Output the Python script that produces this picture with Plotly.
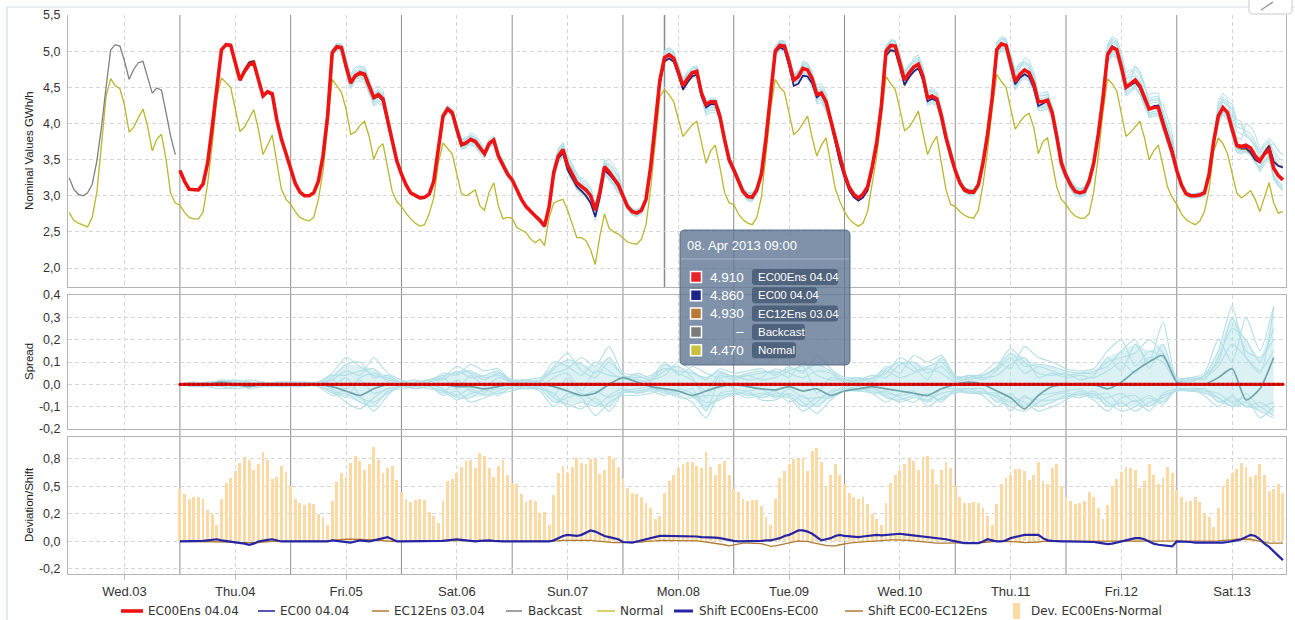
import numpy as np
import pandas as pd
import plotly.graph_objects as go

# ---------------- data ----------------
day_labels = ["Wed.03", "Thu.04", "Fri.05", "Sat.06", "Sun.07", "Mon.08",
              "Tue.09", "Wed.10", "Thu.11", "Fri.12", "Sat.13"]

# Backcast, Wed 03 (hourly)
backcast = [3.25, 3.09, 3.02, 3.00, 3.04, 3.16, 3.48, 3.95, 4.50, 5.02, 5.09, 5.07,
            4.86, 4.61, 4.75, 4.84, 4.86, 4.65, 4.42, 4.49, 4.46, 4.15, 3.82, 3.57]

# Normal, Wed 03 .. Sat 13 (hourly)
normal = [
    2.77, 2.66, 2.62, 2.59, 2.57, 2.70, 3.05, 3.70, 4.38, 4.62, 4.52, 4.48, 4.25, 3.88, 3.95, 4.08, 4.20, 3.96, 3.62, 3.78, 3.85, 3.50, 3.03, 2.90,
    2.87, 2.77, 2.70, 2.68, 2.68, 2.77, 3.16, 3.70, 4.35, 4.63, 4.56, 4.50, 4.20, 3.89, 3.95, 4.07, 4.19, 3.92, 3.57, 3.70, 3.84, 3.46, 3.09, 2.95,
    2.88, 2.78, 2.70, 2.67, 2.65, 2.70, 2.95, 3.33, 3.95, 4.61, 4.52, 4.43, 4.20, 3.85, 3.88, 3.97, 4.03, 3.82, 3.50, 3.66, 3.72, 3.38, 3.06, 2.92,
    2.85, 2.76, 2.68, 2.62, 2.58, 2.60, 2.75, 2.97, 3.45, 3.73, 3.65, 3.58, 3.30, 3.03, 3.00, 3.04, 3.08, 2.86, 2.80, 3.05, 3.18, 2.86, 2.68, 2.70,
    2.69, 2.56, 2.52, 2.49, 2.40, 2.35, 2.40, 2.31, 2.70, 2.90, 2.93, 2.95, 2.80, 2.62, 2.42, 2.42, 2.38, 2.25, 2.05, 2.44, 2.75, 2.55, 2.50, 2.47,
    2.42, 2.36, 2.34, 2.33, 2.40, 2.60, 3.10, 3.75, 4.37, 4.47, 4.40, 4.30, 4.05, 3.82, 3.90, 3.98, 4.03, 3.75, 3.45, 3.62, 3.70, 3.40, 3.05, 2.90,
    2.88, 2.75, 2.67, 2.62, 2.60, 2.70, 2.98, 3.58, 4.20, 4.61, 4.50, 4.43, 4.15, 3.85, 3.90, 4.00, 4.10, 3.80, 3.55, 3.70, 3.80, 3.45, 3.10, 2.92,
    2.78, 2.68, 2.62, 2.58, 2.62, 2.78, 3.15, 3.55, 4.10, 4.65, 4.55, 4.47, 4.20, 3.90, 3.95, 4.05, 4.17, 3.88, 3.57, 3.72, 3.82, 3.45, 3.08, 2.88,
    2.85, 2.78, 2.73, 2.70, 2.69, 2.80, 3.15, 3.62, 4.20, 4.68, 4.58, 4.50, 4.22, 3.92, 4.02, 4.10, 4.14, 3.95, 3.58, 3.75, 3.80, 3.48, 3.12, 2.95,
    2.88, 2.78, 2.72, 2.69, 2.69, 2.75, 3.05, 3.55, 4.15, 4.62, 4.55, 4.45, 4.15, 3.82, 3.88, 3.95, 4.03, 3.80, 3.50, 3.62, 3.70, 3.42, 3.12, 2.98,
    2.88, 2.75, 2.67, 2.63, 2.60, 2.65, 2.78, 3.08, 3.62, 3.80, 3.72, 3.58, 3.30, 3.04, 2.97, 3.02, 3.07, 2.95, 2.78, 2.98, 3.18, 2.90, 2.76, 2.78,
]

# EC00Ens 04.04 (ensemble mean), Thu 04 .. Sat 13 (hourly)
ec00ens = [
    3.35, 3.20, 3.09, 3.08, 3.08, 3.16, 3.45, 3.95, 4.50, 5.02, 5.09, 5.08, 4.84, 4.60, 4.72, 4.81, 4.84, 4.62, 4.38, 4.44, 4.41, 4.05, 3.78, 3.58,
    3.38, 3.17, 3.05, 3.00, 3.00, 3.04, 3.20, 3.55, 4.10, 4.98, 5.06, 5.05, 4.79, 4.56, 4.66, 4.70, 4.68, 4.52, 4.36, 4.40, 4.34, 4.05, 3.75, 3.48,
    3.30, 3.15, 3.04, 3.00, 2.97, 2.98, 3.02, 3.20, 3.62, 4.10, 4.20, 4.15, 3.92, 3.71, 3.73, 3.78, 3.75, 3.66, 3.58, 3.72, 3.77, 3.55, 3.42, 3.30,
    3.22, 3.08, 2.95, 2.85, 2.78, 2.72, 2.66, 2.58, 2.85, 3.32, 3.55, 3.64, 3.42, 3.30, 3.18, 3.13, 3.08, 3.00, 2.80, 3.05, 3.40, 3.33, 3.25, 3.15,
    3.00, 2.85, 2.78, 2.76, 2.80, 2.95, 3.40, 3.95, 4.60, 4.91, 4.95, 4.90, 4.72, 4.52, 4.62, 4.70, 4.72, 4.42, 4.26, 4.30, 4.30, 4.10, 3.78, 3.50,
    3.36, 3.20, 3.06, 2.99, 2.98, 3.08, 3.30, 3.80, 4.35, 5.00, 5.08, 5.07, 4.85, 4.60, 4.65, 4.76, 4.74, 4.62, 4.40, 4.42, 4.30, 4.05, 3.80, 3.52,
    3.30, 3.12, 3.02, 2.97, 3.02, 3.12, 3.40, 3.75, 4.25, 5.00, 5.08, 5.07, 4.85, 4.60, 4.70, 4.78, 4.82, 4.65, 4.35, 4.38, 4.34, 4.10, 3.80, 3.55,
    3.35, 3.18, 3.08, 3.05, 3.05, 3.15, 3.45, 3.85, 4.35, 5.02, 5.10, 5.08, 4.82, 4.58, 4.68, 4.74, 4.70, 4.55, 4.30, 4.30, 4.32, 4.15, 3.82, 3.45,
    3.28, 3.15, 3.06, 3.04, 3.06, 3.20, 3.45, 3.85, 4.35, 4.95, 5.05, 5.02, 4.78, 4.50, 4.55, 4.60, 4.52, 4.35, 4.20, 4.22, 4.22, 4.00, 3.80, 3.60,
    3.35, 3.15, 3.03, 3.00, 3.00, 3.01, 3.04, 3.30, 3.75, 4.10, 4.22, 4.15, 3.92, 3.70, 3.68, 3.70, 3.66, 3.55, 3.48, 3.58, 3.64, 3.38, 3.28, 3.22,
]

# Shift EC00Ens-EC00 (hourly)
shift_ens_ec00 = [
    0, 0, 0, 0, 0, 0.005, 0.01, 0.015, 0.02, 0.01, 0.005, 0, -0.005, -0.01, -0.02, -0.03, -0.02, 0, 0.01, 0.015, 0.02, 0.01, 0, 0,
    0, 0, 0, 0, 0, 0, 0, 0, 0, 0.01, 0.005, 0, -0.01, -0.01, 0, 0.01, 0.005, 0, 0.01, 0.02, 0.03, 0.04, 0.02, 0,
    0, 0, 0, 0, 0, 0, 0, 0, 0, 0.005, 0.01, 0.015, 0.02, 0.015, 0.01, 0, 0, 0.005, 0.01, 0.01, 0.005, 0, 0, 0,
    0, 0, 0, 0, 0, 0, 0, 0, 0, 0.01, 0.03, 0.05, 0.06, 0.055, 0.05, 0.06, 0.08, 0.10, 0.09, 0.07, 0.05, 0.04, 0.03, 0.02,
    -0.005, -0.01, -0.01, 0, 0.01, 0.02, 0.03, 0.04, 0.05, 0.05, 0.05, 0.045, 0.045, 0.05, 0.05, 0.045, 0.045, 0.04, 0.04, 0.035, 0.035, 0.03, 0.02, 0.01,
    0.005, 0, 0, 0, 0, 0.005, 0.005, 0.01, 0.01, 0.02, 0.03, 0.05, 0.06, 0.08, 0.10, 0.10, 0.09, 0.07, 0.04, 0.01, 0.02, 0.03, 0.05, 0.06,
    0.05, 0.045, 0.04, 0.04, 0.045, 0.05, 0.05, 0.06, 0.055, 0.06, 0.065, 0.07, 0.07, 0.065, 0.06, 0.06, 0.055, 0.05, 0.045, 0.04, 0.035, 0.03, 0.02, 0.01,
    0, -0.01, -0.015, -0.015, -0.015, -0.015, 0, 0.02, 0.01, 0, 0, 0.01, 0.03, 0.04, 0.05, 0.06, 0.06, 0.06, 0.06, 0.03, 0.01, 0.005, 0, 0,
    0, 0, 0, 0, 0, 0, -0.005, -0.01, -0.02, -0.025, -0.02, -0.01, 0, 0.01, 0.02, 0.03, 0.03, 0.02, 0, -0.02, -0.03, -0.035, -0.04, -0.045,
    0, 0, 0, -0.005, -0.01, -0.01, -0.015, -0.015, -0.015, -0.015, -0.01, -0.005, 0, 0.01, 0.02, 0.04, 0.06, 0.05, 0.02, -0.02, -0.05, -0.09, -0.13, -0.17,
]

# Shift EC00-EC12Ens (hourly)
shift_ec00_ec12 = [
    0, 0, 0, 0, 0, 0, 0, 0, 0, 0, 0, -0.005, -0.01, -0.01, -0.015, -0.015, -0.01, -0.01, -0.005, 0, 0, 0, 0, 0,
    0, 0, 0, 0, 0, 0, 0, 0, 0.005, 0.01, 0.015, 0.02, 0.02, 0.02, 0.02, 0.02, 0.02, 0.02, 0.015, 0.01, 0.005, 0, 0, 0,
    0, 0, 0, 0, 0, 0, 0, 0.005, 0.005, 0.01, 0.01, 0.01, 0.01, 0.01, 0.01, 0.01, 0.005, 0.005, 0, 0, 0, 0, 0, 0,
    0, 0, 0, 0, 0, 0, 0, 0, 0, 0, 0.005, 0.01, 0.01, 0.01, 0.015, 0.015, 0.01, 0.01, 0.005, 0, -0.005, -0.01, -0.01, -0.01,
    -0.01, -0.01, -0.01, -0.01, -0.005, 0, 0, 0.005, 0.01, 0.01, 0.01, 0.01, 0.01, 0.01, 0.01, 0.01, 0.005, 0, -0.005, -0.01, -0.015, -0.02, -0.03, -0.04,
    -0.03, -0.02, -0.015, -0.015, -0.015, -0.015, -0.02, -0.03, -0.045, -0.04, -0.03, -0.02, -0.01, 0, 0.005, 0, 0, -0.01, -0.02, -0.03, -0.035, -0.04, -0.04, -0.03,
    -0.02, -0.015, -0.01, -0.005, 0, 0, 0, 0.005, 0.01, 0.01, 0.015, 0.015, 0.015, 0.015, 0.01, 0.005, 0, 0, -0.005, -0.01, -0.015, -0.015, -0.015, -0.015,
    -0.015, -0.015, -0.015, -0.01, -0.01, -0.01, -0.01, -0.005, 0, 0, 0, 0, 0, -0.005, -0.005, -0.01, -0.01, -0.01, -0.005, 0, 0, 0, 0, 0,
    0, 0, 0, 0, 0, 0, 0, 0, 0, 0, 0, 0, 0.005, 0.005, 0.005, 0.005, 0, 0, 0, 0, 0, 0, 0, 0,
    0, 0, 0, 0, 0, 0, 0, 0, 0, 0.005, 0.01, 0.01, 0.015, 0.02, 0.02, 0.02, 0.02, 0.01, 0, -0.01, -0.015, -0.015, -0.015, -0.015,
]

# Spread panel: control deviation (3-hourly, Thu 04 .. Sat 13)
ctrl_spread = [
    0, 0, 0, 0.01, 0, -0.01, 0, 0,
    0, 0, 0, -0.01, -0.03, -0.05, -0.02, 0,
    0, 0, 0, 0, -0.01, -0.01, -0.02, -0.01,
    0, 0, 0, -0.01, -0.03, -0.05, -0.04, 0.0,
    0.03, 0.01, -0.01, -0.02, -0.03, -0.05, -0.03, -0.01,
    0, -0.01, -0.02, -0.025, -0.01, -0.03, -0.02, -0.05,
    -0.03, -0.02, -0.01, -0.02, -0.03, -0.04, -0.05, -0.02,
    0, 0.01, 0.0, -0.03, -0.06, -0.11, -0.05, -0.01,
    0, 0, 0, -0.02, 0.01, 0.06, 0.10, 0.13,
    0.01, 0.0, 0, 0.03, 0.07, -0.07, -0.02, 0.12,
]

# Ensemble members minus ensemble mean (3-hourly, Thu 04 .. Sat 13)
m01 = [0.00, 0.01, 0.00, 0.02, 0.01, 0.01, 0.00, 0.01, 0.01, 0.00, 0.01, 0.05, 0.12, 0.08, 0.04, 0.03,
       0.01, 0.02, 0.00, 0.03, 0.08, 0.05, 0.02, 0.05, 0.02, 0.01, 0.02, 0.08, 0.14, 0.06, 0.03, 0.10,
       0.04, 0.02, 0.01, 0.09, 0.05, 0.02, -0.03, 0.05, 0.03, 0.04, 0.05, 0.06, 0.03, 0.10, 0.04, 0.02,
       0.02, 0.01, 0.03, 0.05, 0.12, 0.08, 0.02, 0.12, 0.03, 0.02, 0.04, 0.08, 0.16, 0.10, 0.05, 0.04,
       0.05, 0.02, 0.04, 0.12, 0.06, 0.18, 0.10, 0.28, 0.02, 0.01, 0.04, 0.15, 0.35, 0.12, 0.05, 0.34]
m02 = [0.00, -0.01, 0.00, -0.01, -0.02, -0.01, 0.00, -0.01, -0.01, 0.00, -0.01, -0.03, -0.08, -0.11, -0.06, -0.02,
       -0.01, -0.01, -0.02, -0.03, -0.07, -0.04, -0.03, -0.02, -0.02, -0.02, -0.01, -0.06, -0.09, -0.11, -0.06, -0.12,
       -0.04, -0.03, -0.02, -0.04, -0.05, -0.08, -0.15, -0.04, -0.03, -0.05, -0.04, -0.05, -0.06, -0.12, -0.08, -0.03,
       -0.02, -0.02, -0.03, -0.05, -0.08, -0.06, -0.07, -0.04, -0.03, -0.04, -0.03, -0.06, -0.10, -0.12, -0.08, -0.05,
       -0.04, -0.05, -0.03, -0.08, -0.12, -0.10, -0.06, -0.09, -0.02, -0.03, -0.04, -0.06, -0.10, -0.08, -0.12, -0.15]
m03 = [0.00, 0.00, 0.01, 0.01, 0.00, 0.02, 0.01, 0.00, 0.00, 0.01, 0.00, 0.02, 0.06, 0.04, 0.12, 0.05,
       0.02, 0.00, 0.01, 0.05, 0.04, 0.09, 0.06, 0.07, 0.01, 0.02, 0.03, 0.05, 0.07, 0.12, 0.08, 0.17,
       0.05, 0.04, 0.02, 0.04, 0.10, 0.06, 0.02, 0.07, 0.05, 0.06, 0.07, 0.04, 0.08, 0.05, 0.13, 0.07,
       0.03, 0.03, 0.02, 0.08, 0.05, 0.13, 0.10, 0.13, 0.04, 0.03, 0.05, 0.10, 0.07, 0.17, 0.12, 0.10,
       0.07, 0.06, 0.07, 0.15, 0.20, 0.08, 0.15, 0.12, 0.03, 0.03, 0.05, 0.20, 0.10, 0.30, 0.15, 0.35]
m04 = [0.00, -0.01, -0.01, 0.00, 0.01, -0.02, -0.01, 0.00, 0.00, -0.01, 0.00, -0.01, 0.03, -0.05, -0.12, -0.05,
       0.00, -0.02, -0.01, -0.05, -0.03, -0.08, -0.06, -0.04, -0.03, -0.01, -0.03, -0.10, -0.04, -0.06, -0.14, -0.08,
       -0.05, -0.05, -0.04, -0.02, -0.03, -0.05, -0.10, -0.06, -0.05, -0.03, -0.07, -0.07, -0.04, -0.08, -0.13, -0.07,
       -0.03, -0.03, -0.04, -0.08, -0.04, -0.03, -0.10, -0.06, -0.04, -0.03, -0.05, -0.10, -0.06, -0.08, -0.12, -0.10,
       -0.07, -0.04, -0.07, -0.12, -0.06, -0.05, -0.10, -0.05, -0.03, -0.02, -0.05, -0.10, -0.05, -0.10, -0.08, -0.12]
m05 = [0.00, 0.00, 0.00, 0.01, 0.01, 0.00, 0.01, 0.00, 0.01, 0.00, 0.00, 0.03, 0.09, 0.10, 0.03, 0.04,
       0.01, 0.01, 0.02, 0.02, 0.06, 0.03, 0.04, 0.06, 0.00, 0.01, 0.02, 0.10, 0.08, 0.04, 0.10, 0.06,
       0.02, 0.05, 0.03, 0.10, 0.04, 0.08, 0.05, 0.03, 0.04, 0.02, 0.03, 0.07, 0.05, 0.03, 0.06, 0.05,
       0.01, 0.02, 0.04, 0.03, 0.09, 0.10, 0.05, 0.08, 0.02, 0.04, 0.02, 0.06, 0.12, 0.05, 0.08, 0.06,
       0.04, 0.05, 0.06, 0.08, 0.15, 0.20, 0.07, 0.18, 0.02, 0.03, 0.02, 0.12, 0.25, 0.20, 0.10, 0.25]
m06 = [0.00, 0.00, -0.01, -0.02, -0.01, 0.00, -0.01, -0.01, 0.00, 0.00, -0.01, -0.05, -0.04, -0.08, -0.10, -0.03,
       -0.02, -0.01, 0.00, -0.02, -0.06, -0.06, -0.02, -0.05, -0.01, -0.02, -0.02, -0.04, -0.10, -0.08, -0.10, -0.05,
       -0.02, -0.04, -0.03, -0.05, -0.02, -0.04, -0.08, -0.07, -0.04, -0.06, -0.05, -0.03, -0.08, -0.05, -0.10, -0.05,
       -0.03, -0.01, -0.04, -0.03, -0.06, -0.08, -0.04, -0.08, -0.02, -0.04, -0.04, -0.04, -0.12, -0.05, -0.10, -0.08,
       -0.05, -0.06, -0.04, -0.10, -0.08, -0.12, -0.08, -0.06, -0.03, -0.03, -0.03, -0.04, -0.08, -0.06, -0.15, -0.10]
m07 = [0.00, 0.01, 0.00, 0.00, 0.00, 0.01, 0.00, 0.01, 0.00, 0.00, 0.01, 0.02, -0.02, 0.03, 0.05, 0.02,
       0.01, 0.00, 0.01, 0.03, -0.02, 0.04, -0.01, 0.03, 0.01, 0.00, -0.01, 0.03, 0.05, -0.03, 0.06, 0.04,
       0.03, 0.01, 0.02, 0.06, 0.08, 0.03, -0.06, 0.04, 0.02, 0.04, 0.02, 0.03, 0.06, 0.08, -0.04, 0.03,
       0.02, 0.03, 0.01, 0.06, 0.03, 0.05, 0.07, 0.05, 0.01, 0.03, 0.03, 0.04, 0.09, 0.12, 0.03, 0.05,
       0.03, 0.04, 0.03, 0.06, 0.10, 0.05, 0.12, 0.10, 0.01, 0.02, 0.03, 0.08, 0.18, 0.12, 0.06, 0.15]
m08 = [0.00, 0.00, 0.00, -0.01, 0.00, -0.01, 0.00, 0.00, 0.00, 0.00, 0.00, -0.02, -0.06, 0.02, -0.04, -0.02,
       -0.01, 0.00, -0.01, -0.04, 0.02, -0.03, -0.04, 0.01, 0.00, -0.01, 0.01, -0.05, 0.03, -0.05, -0.03, -0.06,
       -0.03, -0.02, -0.01, -0.03, -0.04, -0.02, -0.12, 0.02, -0.02, -0.03, -0.02, -0.06, -0.02, -0.06, -0.06, -0.04,
       -0.01, -0.02, -0.02, -0.04, -0.05, -0.04, -0.08, -0.02, -0.02, -0.02, -0.02, -0.08, -0.04, -0.10, -0.05, -0.04,
       -0.03, -0.02, -0.05, -0.04, -0.10, -0.07, -0.12, -0.04, -0.02, -0.02, -0.02, -0.06, -0.10, -0.04, -0.10, -0.08]
m09 = [0.00, 0.00, 0.01, 0.01, 0.02, 0.01, 0.00, 0.00, 0.01, 0.01, 0.01, 0.04, 0.04, 0.06, 0.07, 0.01,
       0.00, 0.01, 0.02, 0.04, 0.05, 0.06, 0.03, 0.04, 0.02, 0.02, 0.01, 0.07, 0.11, 0.09, 0.05, 0.12,
       0.04, 0.03, 0.04, 0.07, 0.06, 0.05, 0.03, 0.06, 0.03, 0.05, 0.06, 0.05, 0.07, 0.06, 0.09, 0.06,
       0.02, 0.02, 0.03, 0.07, 0.10, 0.06, 0.08, 0.10, 0.03, 0.04, 0.04, 0.07, 0.14, 0.08, 0.09, 0.08,
       0.06, 0.05, 0.05, 0.10, 0.12, 0.14, 0.20, 0.14, 0.02, 0.02, 0.04, 0.10, 0.30, 0.15, 0.12, 0.20]
m10 = [0.00, -0.01, 0.00, 0.00, -0.01, -0.01, 0.00, 0.00, -0.01, -0.01, 0.00, -0.04, -0.03, -0.06, -0.08, -0.04,
       -0.01, -0.02, -0.01, -0.03, -0.05, -0.02, -0.05, -0.03, -0.01, -0.01, -0.02, -0.08, -0.06, -0.04, -0.08, -0.10,
       -0.03, -0.04, -0.02, -0.03, -0.06, -0.06, -0.05, -0.05, -0.04, -0.04, -0.06, -0.04, -0.05, -0.10, -0.06, -0.06,
       -0.02, -0.03, -0.01, -0.06, -0.07, -0.05, -0.05, -0.07, -0.03, -0.02, -0.04, -0.05, -0.08, -0.06, -0.07, -0.07,
       -0.06, -0.03, -0.06, -0.06, -0.04, -0.08, -0.05, -0.08, -0.02, -0.03, -0.02, -0.08, -0.06, -0.10, -0.10, -0.14]
members = [m01, m02, m03, m04, m05, m06, m07, m08, m09, m10]

# axis ticks
top_ticks = [2.0, 2.5, 3.0, 3.5, 4.0, 4.5, 5.0, 5.5]
top_ticktext = ["2,0", "2,5", "3,0", "3,5", "4,0", "4,5", "5,0", "5,5"]
spread_ticks = [-0.2, -0.1, 0.0, 0.1, 0.2, 0.3, 0.4]
spread_ticktext = ["-0,2", "-0,1", "0,0", "0,1", "0,2", "0,3", "0,4"]
dev_ticks = [-0.25, 0.0, 0.25, 0.5, 0.75]
dev_ticktext = ["-0,2", "0,0", "0,2", "0,5", "0,8"]

# ---------------- derived ----------------
t_all = pd.date_range("2013-04-03 00:00", periods=len(normal), freq="h")
t_ens = t_all[24:]
t_3h = pd.date_range("2013-04-04 00:00", periods=len(ctrl_spread), freq="3h")
day_noon = pd.date_range("2013-04-03 12:00", periods=len(day_labels), freq="D")
midnights = pd.date_range("2013-04-04 00:00", periods=10, freq="D")

ens = np.array(ec00ens)
ec00 = ens - np.array(shift_ens_ec00)
ec12 = ec00 - np.array(shift_ec00_ec12)
dev = ens - np.array(normal[24:])
mem_sorted = np.sort(np.array(members), axis=0)
core_hi = mem_sorted[-2]
core_lo = mem_sorted[1]

x_range = [pd.Timestamp("2013-04-02 23:45"), pd.Timestamp("2013-04-13 23:40")]

# pixel helpers (plot area: x 68..1286, y 15..574)
def PX(x):
    return (x - 68) / 1218.0

def PY(y):
    return (574 - y) / 559.0

def P(x, y):
    return f"{PX(x):.5f},{PY(y):.5f}"

def rrect(x0, y0, x1, y1, r):
    return ("M" + P(x0 + r, y0) + " L" + P(x1 - r, y0) + " Q" + P(x1, y0) + " " + P(x1, y0 + r) +
            " L" + P(x1, y1 - r) + " Q" + P(x1, y1) + " " + P(x1 - r, y1) +
            " L" + P(x0 + r, y1) + " Q" + P(x0, y1) + " " + P(x0, y1 - r) +
            " L" + P(x0, y0 + r) + " Q" + P(x0, y0) + " " + P(x0 + r, y0) + " Z")

MEMBER_C = "#b2dfe6"
RED = "#ee1414"
NAVY = "#1f1f8f"
BROWN = "#b07a30"
GRAY = "#808080"
OLIVE = "#bdb52c"
BAR_C = "#fdd9a3"

fig = go.Figure()

# ---- top panel ----
for m in members:
    fig.add_trace(go.Scatter(x=t_ens, y=ens + np.repeat(m, 3), mode="lines",
                             line=dict(color=MEMBER_C, width=1), showlegend=False,
                             hoverinfo="skip", xaxis="x", yaxis="y"))
fig.add_trace(go.Scatter(x=t_all, y=normal, mode="lines", line=dict(color=OLIVE, width=1.3),
                         name="Normal", showlegend=False, xaxis="x", yaxis="y"))
fig.add_trace(go.Scatter(x=t_all[:24], y=backcast, mode="lines", line=dict(color=GRAY, width=1.3),
                         name="Backcast", showlegend=False, xaxis="x", yaxis="y"))
fig.add_trace(go.Scatter(x=t_ens, y=ec12, mode="lines", line=dict(color=BROWN, width=1.2),
                         name="EC12Ens 03.04", showlegend=False, xaxis="x", yaxis="y"))
fig.add_trace(go.Scatter(x=t_ens, y=ec00, mode="lines", line=dict(color=NAVY, width=1.6),
                         name="EC00 04.04", showlegend=False, xaxis="x", yaxis="y"))
fig.add_trace(go.Scatter(x=t_ens, y=ens, mode="lines", line=dict(color=RED, width=3.6),
                         name="EC00Ens 04.04", showlegend=False, xaxis="x", yaxis="y"))

# ---- spread panel ----
fig.add_trace(go.Scatter(x=t_3h, y=core_lo, mode="lines",
                         line=dict(color="rgba(0,0,0,0)", width=0, shape="spline", smoothing=0.6),
                         showlegend=False, hoverinfo="skip", xaxis="x2", yaxis="y2"))
fig.add_trace(go.Scatter(x=t_3h, y=core_hi, mode="lines", fill="tonexty",
                         fillcolor="rgba(178,223,230,0.45)",
                         line=dict(color="rgba(0,0,0,0)", width=0, shape="spline", smoothing=0.6),
                         showlegend=False, hoverinfo="skip", xaxis="x2", yaxis="y2"))
for m in members:
    fig.add_trace(go.Scatter(x=t_3h, y=m, mode="lines",
                             line=dict(color=MEMBER_C, width=1.1, shape="spline", smoothing=0.6),
                             showlegend=False, hoverinfo="skip", xaxis="x2", yaxis="y2"))
fig.add_trace(go.Scatter(x=t_3h, y=ctrl_spread, mode="lines",
                         line=dict(color="#6fa5ad", width=1.7, shape="spline", smoothing=0.6),
                         showlegend=False, hoverinfo="skip", xaxis="x2", yaxis="y2"))
fig.add_trace(go.Scatter(x=t_ens, y=ens - ens, mode="lines+markers",
                         line=dict(color=RED, width=3.4),
                         marker=dict(size=3, color="#b80000"),
                         showlegend=False, hoverinfo="skip", xaxis="x2", yaxis="y2"))

# ---- deviation / shift panel ----
fig.add_trace(go.Bar(x=t_ens, y=dev, width=0.62 * 3600 * 1000, marker=dict(color=BAR_C, line=dict(width=0)),
                     name="Dev. EC00Ens-Normal", showlegend=False, xaxis="x3", yaxis="y3"))
fig.add_trace(go.Scatter(x=t_ens, y=shift_ec00_ec12, mode="lines", line=dict(color=BROWN, width=1.3),
                         name="Shift EC00-EC12Ens", showlegend=False, xaxis="x3", yaxis="y3"))
fig.add_trace(go.Scatter(x=t_ens, y=shift_ens_ec00, mode="lines", line=dict(color="#2525a5", width=2.2),
                         name="Shift EC00Ens-EC00", showlegend=False, xaxis="x3", yaxis="y3"))

# ---------------- layout ----------------
GRID = "#d6d6d6"
AX_LINE = "#b4b4b4"
TICK_FONT = dict(family="Liberation Sans, Arial", size=12.5, color="#333333")

xcommon = dict(type="date", range=x_range, tickvals=list(day_noon), ticktext=day_labels,
               showgrid=True, gridcolor=GRID, griddash="4px,3px", gridwidth=1,
               zeroline=False, linecolor=AX_LINE, showline=True, tickfont=TICK_FONT)
ycommon = dict(showgrid=True, gridcolor=GRID, griddash="4px,3px", gridwidth=1, zeroline=False,
               showline=True, linecolor=AX_LINE, mirror=True, tickfont=TICK_FONT,
               ticks="outside", ticklen=4, tickcolor="rgba(0,0,0,0)")

layout = dict(
    width=1295, height=620,
    margin=dict(l=68, r=9, t=15, b=46),
    paper_bgcolor="white", plot_bgcolor="rgba(0,0,0,0)",
    showlegend=False, bargap=0,
    xaxis=dict(xcommon, anchor="y", showticklabels=False, ticks=""),
    xaxis2=dict(xcommon, anchor="y2", matches="x", showticklabels=False, ticks="", mirror=True),
    xaxis3=dict(xcommon, anchor="y3", matches="x", showticklabels=True, mirror=True,
                ticks="outside", ticklen=5, tickcolor="#c0c0c0",
                tickfont=dict(family="Liberation Sans, Arial", size=13, color="#333333")),
    yaxis=dict(ycommon, domain=[PY(287), 1.0], range=[1.738, 5.5], tickvals=top_ticks, ticktext=top_ticktext),
    yaxis2=dict(ycommon, domain=[PY(429), PY(295)], range=[-0.2, 0.4], tickvals=spread_ticks,
                ticktext=spread_ticktext),
    yaxis3=dict(ycommon, domain=[0.0, PY(437)], range=[-0.296, 0.95], tickvals=dev_ticks,
                ticktext=dev_ticktext),
)
fig.update_layout(**layout)

shapes = []
# day separators
for d in midnights:
    shapes.append(dict(type="line", xref="x", yref="paper", x0=d, x1=d, y0=0, y1=1,
                       line=dict(color="#8e8e8e", width=1), layer="below"))
# crosshair at hovered point
cross_t = pd.Timestamp("2013-04-08 09:00")
shapes.append(dict(type="line", xref="x", yref="paper", x0=cross_t, x1=cross_t, y0=PY(287), y1=1,
                   line=dict(color="#8a8a8a", width=1.5), layer="below"))
# outer chart frame
shapes.append(dict(type="rect", xref="paper", yref="paper", x0=PX(7), x1=PX(1310), y0=PY(640), y1=PY(7),
                   line=dict(color="#d3dde7", width=1.2), fillcolor="rgba(0,0,0,0)", layer="below"))
# top-right expand button
shapes.append(dict(type="path", xref="paper", yref="paper", path=rrect(1249, -6, 1292, 14, 4),
                   line=dict(color="#c9c9c9", width=1), fillcolor="white", layer="above"))
shapes.append(dict(type="line", xref="paper", yref="paper", x0=PX(1261), y0=PY(10), x1=PX(1273), y1=PY(2),
                   line=dict(color="#9a9a9a", width=1.5), layer="above"))

annotations = []
# y-axis titles
TITLE_FONT = dict(family="Liberation Sans, Arial", size=11.5, color="#222222")
for txt, yc in [("Nominal Values GWh/h", 151), ("Spread", 362), ("Deviation/Shift", 505)]:
    annotations.append(dict(text=txt, xref="paper", yref="paper", x=PX(29), y=PY(yc), textangle=-90,
                            showarrow=False, xanchor="center", yanchor="middle", font=TITLE_FONT))

# tooltip
shapes.append(dict(type="path", xref="paper", yref="paper", path=rrect(680, 230, 850, 365, 5),
                   fillcolor="rgba(92,115,145,0.78)", line=dict(color="rgba(80,100,128,0.9)", width=1),
                   layer="above"))
shapes.append(dict(type="line", xref="paper", yref="paper", x0=PX(681), x1=PX(849), y0=PY(259), y1=PY(259),
                   line=dict(color="rgba(175,190,210,0.8)", width=1), layer="above"))
annotations.append(dict(text="08. Apr 2013 09:00", xref="paper", yref="paper", x=PX(685), y=PY(245),
                        xanchor="left", yanchor="middle", showarrow=False,
                        font=dict(family="Liberation Sans, Arial", size=13, color="white")))
tip_rows = [
    ("#e8232a", "4.910", "EC00Ens 04.04", 838),
    ("#1c2588", "4.860", "EC00 04.04", 817),
    ("#b87a35", "4.930", "EC12Ens 03.04", 838),
    ("#7a7a7a", "\u2013", "Backcast", 805),
    ("#c9c23c", "4.470", "Normal", 796),
]
for i, (col, val, lab, xend) in enumerate(tip_rows):
    yc = 277 + i * 18.3
    shapes.append(dict(type="rect", xref="paper", yref="paper", x0=PX(690.5), x1=PX(701.5),
                       y0=PY(yc + 5.5), y1=PY(yc - 5.5), fillcolor=col,
                       line=dict(color="white", width=1.5), layer="above"))
    shapes.append(dict(type="path", xref="paper", yref="paper", path=rrect(752, yc - 8, xend, yc + 8, 3),
                       fillcolor="rgba(70,90,118,0.85)", line=dict(width=0), layer="above"))
    annotations.append(dict(text=val, xref="paper", yref="paper", x=PX(746), y=PY(yc), xanchor="right",
                            yanchor="middle", showarrow=False,
                            font=dict(family="Liberation Sans, Arial", size=13.5, color="white")))
    annotations.append(dict(text=lab, xref="paper", yref="paper", x=PX(756), y=PY(yc), xanchor="left",
                            yanchor="middle", showarrow=False,
                            font=dict(family="Liberation Sans, Arial", size=11.5, color="white")))

# legend (bottom)
LEG_Y = 611
leg_items = [
    ("EC00Ens 04.04", 121, 143, 146, RED, 3.6),
    ("EC00 04.04", 258, 275, 278, NAVY, 1.5),
    ("EC12Ens 03.04", 372, 389, 392, BROWN, 1.5),
    ("Backcast", 506, 522, 526, GRAY, 1.5),
    ("Normal", 597, 615, 618, "#c9c23c", 1.5),
    ("Shift EC00Ens-EC00", 674, 693, 697, "#2525a5", 3.0),
    ("Shift EC00-EC12Ens", 845, 863, 866, BROWN, 1.5),
    ("Dev. EC00Ens-Normal", 1013, 1020, 1029, None, 0),
]
for txt, x0, x1, xt, col, w in leg_items:
    if col is None:
        shapes.append(dict(type="rect", xref="paper", yref="paper", x0=PX(x0), x1=PX(x1),
                           y0=PY(LEG_Y + 8), y1=PY(LEG_Y - 8), fillcolor=BAR_C, line=dict(width=0)))
    else:
        shapes.append(dict(type="line", xref="paper", yref="paper", x0=PX(x0), x1=PX(x1),
                           y0=PY(LEG_Y), y1=PY(LEG_Y), line=dict(color=col, width=w)))
    annotations.append(dict(text=txt, xref="paper", yref="paper", x=PX(xt), y=PY(LEG_Y), xanchor="left",
                            yanchor="middle", showarrow=False,
                            font=dict(family="DejaVu Sans", size=12, color="#333333")))

fig.update_layout(shapes=shapes, annotations=annotations)

fig.write_html("out.html", config={"displayModeBar": False},
               post_script="document.body.style.margin='0';")
